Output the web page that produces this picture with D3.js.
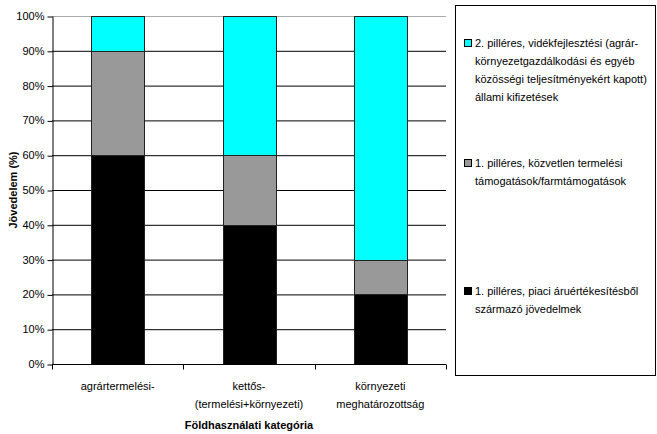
<!DOCTYPE html>
<html><head><meta charset="utf-8">
<script src="https://cdn.jsdelivr.net/npm/d3@7"></script>
<style>body{margin:0;background:#fff}svg{display:block;font-family:"Liberation Sans",Arial,sans-serif}</style>
</head><body><svg id="c" width="657" height="434"></svg>
<script>
const categories = [["agrártermelési-"], ["kettős-", "(termelési+környezeti)"], ["környezeti", "meghatározottság"]];
const catKeys = ["agrar", "kettos", "kornyezeti"];
const piaci = [60, 40, 20];
const kozvetlen = [30, 20, 10];
const videk = [10, 40, 70];
const seriesNames = [
  ["2. pilléres, vidékfejlesztési (agrár-", "környezetgazdálkodási és egyéb", "közösségi teljesítményekért kapott)", "állami kifizetések"],
  ["1. pilléres, közvetlen termelési", "támogatások/farmtámogatások"],
  ["1. pilléres, piaci áruértékesítésből", "származó jövedelmek"]
];
const yTicks = [0,10,20,30,40,50,60,70,80,90,100];
const colors = {piaci:"#000000", kozvetlen:"#999999", videk:"#00ffff"};

const svg = d3.select("#c");
const m = {l:52, r:446, t:16, b:364};
const x = d3.scaleBand().domain(catKeys).range([m.l, m.r]).paddingInner(0.6).paddingOuter(0.3);
const xo = d3.scaleBand().domain(catKeys).range([m.l, m.r]);
const y = d3.scaleLinear().domain([0,100]).range([m.b, m.t]);

// gridlines
svg.append("g").selectAll("line").data(yTicks.filter(d=>d>0)).join("line")
  .attr("x1", m.l).attr("x2", m.r).attr("y1", d=>y(d)+0.5).attr("y2", d=>y(d)+0.5)
  .attr("stroke", d=>d===100?"#aaaaaa":"#000").attr("stroke-width",1);

const data = catKeys.map((k,i)=>({key:k, piaci:piaci[i], kozvetlen:kozvetlen[i], videk:videk[i]}));
const stack = d3.stack().keys(["piaci","kozvetlen","videk"])(data);
svg.append("g").selectAll("g").data(stack).join("g")
  .attr("fill", s=>colors[s.key])
  .selectAll("rect").data(s=>s).join("rect")
  .attr("x", d=>Math.round(x(d.data.key))+0.5)
  .attr("width", Math.round(x.bandwidth()))
  .attr("y", d=>Math.round(y(d[1]))+0.5)
  .attr("height", d=>Math.round(y(d[0]))-Math.round(y(d[1])))
  .attr("stroke", "#222").attr("stroke-width", 1);

// y axis
const ya = svg.append("g").attr("transform",`translate(${m.l+0.5},0)`)
  .call(d3.axisLeft(y).tickValues(yTicks).tickFormat(d=>d+"%").tickSize(5).tickSizeOuter(0));
ya.select(".domain").attr("stroke","#000");
ya.selectAll("text").attr("font-size",11).attr("fill","#000").attr("font-family","Liberation Sans, Arial, sans-serif");
ya.selectAll(".tick line").attr("transform","translate(0,0.5)");

// x axis
const xa = svg.append("g").attr("transform",`translate(0,${m.b+0.5})`);
xa.append("line").attr("x1",m.l).attr("x2",m.r).attr("stroke","#000");
const bounds = [m.l, ...catKeys.map(k=>xo(k)+xo.bandwidth())];
xa.selectAll(".tk").data(bounds).join("line").attr("class","tk")
  .attr("x1",d=>Math.round(d)+0.5).attr("x2",d=>Math.round(d)+0.5).attr("y1",0).attr("y2",5).attr("stroke","#000");
const lbl = xa.selectAll(".lb").data(catKeys).join("text").attr("class","lb")
  .attr("x", k=>xo(k)+xo.bandwidth()/2).attr("y", 25)
  .attr("text-anchor","middle").attr("font-size",11).attr("fill","#000");
lbl.selectAll("tspan").data((k,i)=>categories[i]).join("tspan")
  .attr("x", function(){return this.parentNode.getAttribute("x");})
  .attr("dy",(d,i)=>i===0?0:18).text(d=>d);

// axis titles
svg.append("text").attr("x", 249).attr("y", 429).attr("text-anchor","middle")
  .attr("font-size",11).attr("font-weight","bold").text("Földhasználati kategória");
svg.append("text").attr("transform","translate(17,190) rotate(-90)").attr("text-anchor","middle")
  .attr("font-size",11).attr("font-weight","bold").text("Jövedelem (%)");

// legend
svg.append("rect").attr("x",455.5).attr("y",5.5).attr("width",200).attr("height",370)
  .attr("fill","#fff").attr("stroke","#000");
const legKeys = ["videk","kozvetlen","piaci"];
const legY = [47, 167, 295];
legKeys.forEach((k,i)=>{
  const g = svg.append("g");
  g.append("rect").attr("x",464.5).attr("y",legY[i]-7.5).attr("width",7).attr("height",7)
    .attr("fill",colors[k]).attr("stroke","#000");
  const t = g.append("text").attr("x",475).attr("y",legY[i]).attr("font-size",11).attr("fill","#000");
  t.selectAll("tspan").data(seriesNames[i]).join("tspan").attr("x",475)
    .attr("dy",(d,j)=>j===0?0:18).text(d=>d);
});
</script></body></html>
